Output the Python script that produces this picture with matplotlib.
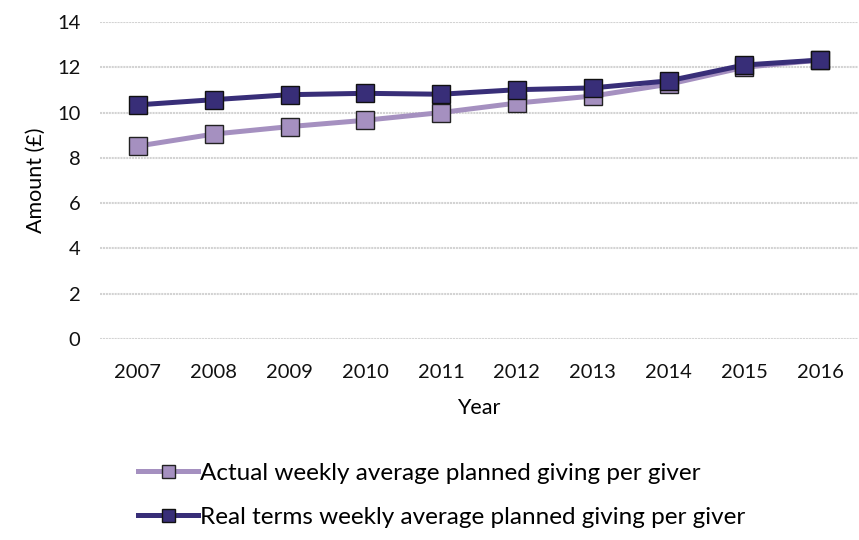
import matplotlib
matplotlib.use("Agg")
import matplotlib.pyplot as plt

years = [2007, 2008, 2009, 2010, 2011, 2012, 2013, 2014, 2015, 2016]
actual = [8.52, 9.05, 9.38, 9.66, 10.0, 10.42, 10.73, 11.25, 12.0, 12.32]
real_terms = [10.34, 10.57, 10.79, 10.85, 10.81, 11.01, 11.09, 11.4, 12.1, 12.32]

labels = ["Actual weekly average planned giving per giver",
          "Real terms weekly average planned giving per giver"]

light = "#a590c0"
dark = "#382e78"

plt.rcParams['font.family'] = ['Lato', 'DejaVu Sans']

fig = plt.figure(figsize=(8.59, 5.4), dpi=100)
ax = fig.add_axes([100 / 859, 1 - 339 / 540, 758 / 859, 317 / 540])

x = list(range(len(years)))
ax.plot(x, actual, color=light, lw=3.6, marker="s", ms=13,
        mfc=light, mec="#222222", mew=1.0, label=labels[0], zorder=3)
ax.plot(x, real_terms, color=dark, lw=3.6, marker="s", ms=13,
        mfc=dark, mec="#111111", mew=1.0, label=labels[1], zorder=4)

ax.set_xlim(-0.5, len(years) - 0.5)
ax.set_ylim(0, 14)
ax.set_yticks(range(0, 15, 2))
ax.set_xticks(x)
ax.set_xticklabels(years)

ax.grid(axis="y", color="#d3d3d3", lw=1.5, ls=(0, (1, 0.4)))
ax.set_axisbelow(True)
for s in ax.spines.values():
    s.set_visible(False)
ax.tick_params(length=0, labelsize=14.5, colors="#111111")
ax.tick_params(axis="x", pad=18)
ax.tick_params(axis="y", pad=14)

ax.set_xlabel("Year", fontsize=15.5, labelpad=12)
ax.set_ylabel("Amount (£)", fontsize=15.5, labelpad=8)

fig.legend(loc="upper left", bbox_to_anchor=(128 / 859, 1 - 453 / 540),
           frameon=False, fontsize=17.5, handlelength=2.5, handletextpad=0.05,
           labelspacing=0.95, borderaxespad=0, markerscale=0.72)

fig.savefig("out.png", dpi=100)
